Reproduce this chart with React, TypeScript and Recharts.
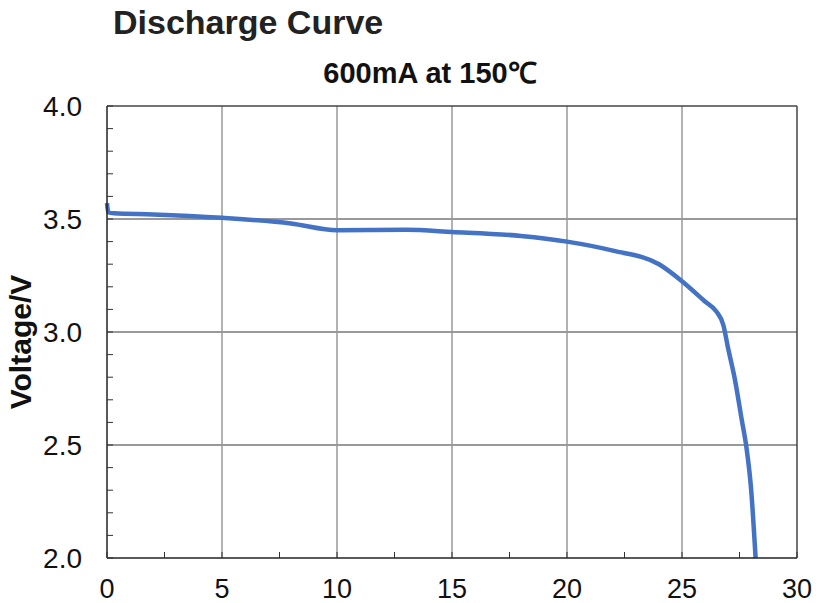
import { LineChart, Line, XAxis, YAxis, ReferenceLine } from "recharts";

const capacity = [0, 0.05, 0.3, 2, 5, 8, 10, 13, 15, 18, 20, 22, 24, 25, 26, 26.5, 26.8, 27, 27.3, 27.6, 27.8, 28, 28.2];
const voltage = [3.57, 3.53, 3.525, 3.52, 3.505, 3.48, 3.45, 3.452, 3.443, 3.425, 3.4, 3.36, 3.3, 3.225, 3.135, 3.09, 3.03, 2.93, 2.79, 2.61, 2.49, 2.31, 2.0];

const xMajor = [0, 5, 10, 15, 20, 25, 30];
const xTicks = [0, 2.5, 5, 7.5, 10, 12.5, 15, 17.5, 20, 22.5, 25, 27.5, 30];
const yMajor = [2.0, 2.5, 3.0, 3.5, 4.0];
const yTicks = [2.0, 2.1, 2.2, 2.3, 2.4, 2.5, 2.6, 2.7, 2.8, 2.9, 3.0, 3.1, 3.2, 3.3, 3.4, 3.5, 3.6, 3.7, 3.8, 3.9, 4.0];

const data = capacity.map((c, i) => ({ c, v: voltage[i] }));

const FONT = "'Liberation Sans', Arial, sans-serif";

const isMajor = (list: number[], v: number) => list.some((m) => Math.abs(m - v) < 1e-6);

const YTick = (props: any) => {
	const { x, y, payload } = props;
	const major = isMajor(yMajor, payload.value);
	return (
		<g>
			<line x1={x} x2={x + 6} y1={y} y2={y} stroke="#333" strokeWidth={1} />
			{major && (
				<text x={x - 25} y={y} dy={10} textAnchor="end" fontSize={28} fill="#111" fontFamily={FONT}>
					{payload.value.toFixed(1)}
				</text>
			)}
		</g>
	);
};

const XTick = (props: any) => {
	const { x, y, payload } = props;
	const major = isMajor(xMajor, payload.value);
	return (
		<g>
			<line x1={x} x2={x} y1={y} y2={y - 6} stroke="#333" strokeWidth={1} />
			{major && (
				<text x={x} y={y + 40} textAnchor="middle" fontSize={27} fill="#111" fontFamily={FONT}>
					{payload.value}
				</text>
			)}
		</g>
	);
};

export default function App() {
	return (
		<div style={{ position: "absolute", left: 0, top: 0, width: 834, height: 603, background: "#fff", fontFamily: FONT }}>
			<div style={{ position: "absolute", left: 113, top: 3, fontSize: 34, fontWeight: "bold", color: "#222", whiteSpace: "nowrap" }}>
				Discharge Curve
			</div>
			<div
				style={{
					position: "absolute",
					left: 430,
					top: 52,
					transform: "translateX(-50%)",
					fontSize: 29,
					fontWeight: "bold",
					color: "#111",
					whiteSpace: "nowrap",
				}}
			>
				600mA at 150℃
			</div>
			<div
				style={{
					position: "absolute",
					left: 21,
					top: 342,
					transform: "translate(-50%, -50%) rotate(-90deg)",
					fontSize: 30,
					fontWeight: "bold",
					color: "#111",
					whiteSpace: "nowrap",
				}}
			>
				Voltage/V
			</div>
			<LineChart width={834} height={603} data={data} margin={{ top: 106, right: 37, left: 0, bottom: 0 }}>
				<XAxis
					dataKey="c"
					type="number"
					domain={[0, 30]}
					ticks={xTicks}
					interval={0}
					height={45}
					tickSize={0}
					tickMargin={0}
					tick={<XTick />}
					axisLine={{ stroke: "#222", strokeWidth: 1.5 }}
					tickLine={false}
				/>
				<YAxis
					dataKey="v"
					type="number"
					domain={[2, 4]}
					ticks={yTicks}
					interval={0}
					width={107}
					tickSize={0}
					tickMargin={0}
					tick={<YTick />}
					axisLine={{ stroke: "#222", strokeWidth: 1.5 }}
					tickLine={false}
				/>
				{[2.5, 3.0, 3.5].map((v) => (
					<ReferenceLine key={`h${v}`} y={v} stroke="#777" strokeWidth={1.5} />
				))}
				{[5, 10, 15, 20, 25].map((v) => (
					<ReferenceLine key={`v${v}`} x={v} stroke="#999" strokeWidth={1.5} />
				))}
				<ReferenceLine y={4} stroke="#444" strokeWidth={1.5} />
				<ReferenceLine x={30} stroke="#444" strokeWidth={1.5} />
				<Line
					type="monotone"
					dataKey="v"
					stroke="#4472C4"
					strokeWidth={4.5}
					dot={false}
					isAnimationActive={false}
				/>
			</LineChart>
		</div>
	);
}
